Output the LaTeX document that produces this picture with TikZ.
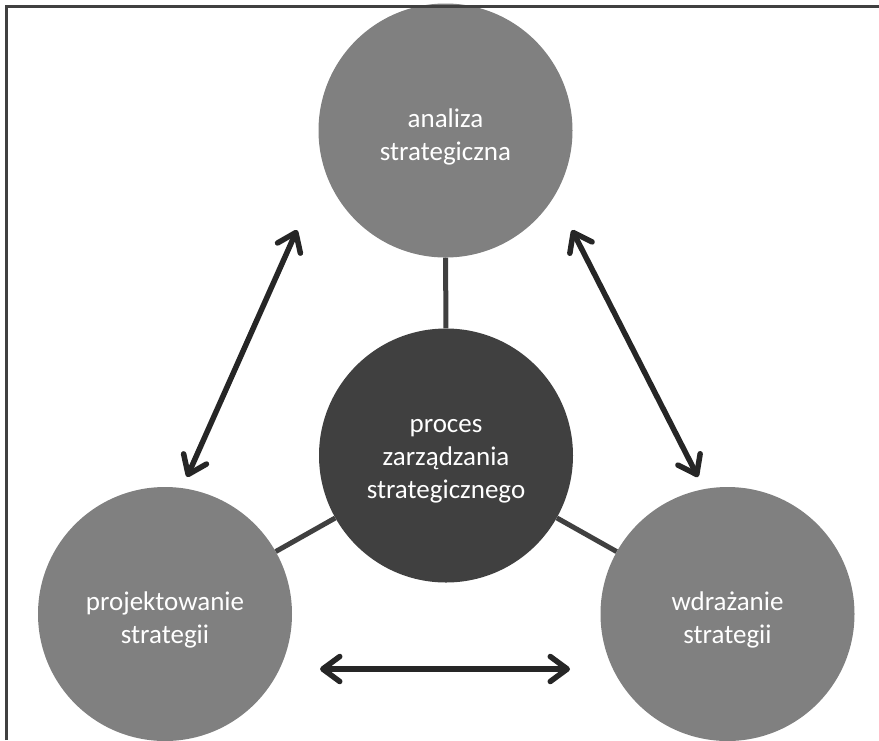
\documentclass[tikz,border=0pt]{standalone}
\usepackage{fontspec}
\setmainfont{Carlito}
\usetikzlibrary{arrows.meta}
\definecolor{phasegray}{HTML}{808080}
\definecolor{coregray}{HTML}{404040}
\definecolor{arrowink}{HTML}{262626}
\begin{document}
\begin{tikzpicture}[x=1pt,y=-1pt,
  phase/.style={circle,fill=phasegray,minimum size=254pt,inner sep=0pt},
  core/.style={phase,fill=coregray},
  caption/.style={text=white,align=center,font=\fontsize{27}{33}\selectfont,yshift=-6pt},
  link/.style={draw=coregray,line width=5pt},
  flow/.style={draw=arrowink,line width=5.5pt,line cap=round,
    {Straight Barb[length=17pt,width=25pt,round]}-{Straight Barb[length=17pt,width=25pt,round]}},
  frame/.style={draw=coregray,line width=2.5pt}]
\useasboundingbox (0,0) rectangle (879,740);
% the four stages
\node[phase] (anal) at (445.5,130.5) {};
\node[core]  (proc) at (446,455.5) {};
\node[phase] (proj) at (165,614) {};
\node[phase] (wdr)  at (727.5,614) {};
\node[caption] (anal-t) at (anal) {analiza\\strategiczna};
\node[caption] (proc-t) at (proc) {proces\\zarządzania\\strategicznego};
\node[caption] (proj-t) at (proj) {projektowanie\\strategii};
\node[caption] (wdr-t)  at (wdr)  {wdrażanie\\strategii};
% spokes from the centre
\draw[link] (anal) -- (proc);
\draw[link] (proc) -- (proj);
\draw[link] (proc) -- (wdr);
% two-way flows between the stages
\coordinate (a1) at (297,230); \coordinate (a2) at (187,477);
\coordinate (b1) at (572,230); \coordinate (b2) at (698,477);
\coordinate (c1) at (320,669); \coordinate (c2) at (570,669);
\draw[flow] (a1) -- (a2);
\draw[flow] (b1) -- (b2);
\draw[flow] (c1) -- (c2);
% open frame along the top and left edges
\draw[frame] (6.5,740) -- (6.5,6.5) -- (879,6.5);
\end{tikzpicture}
\end{document}
